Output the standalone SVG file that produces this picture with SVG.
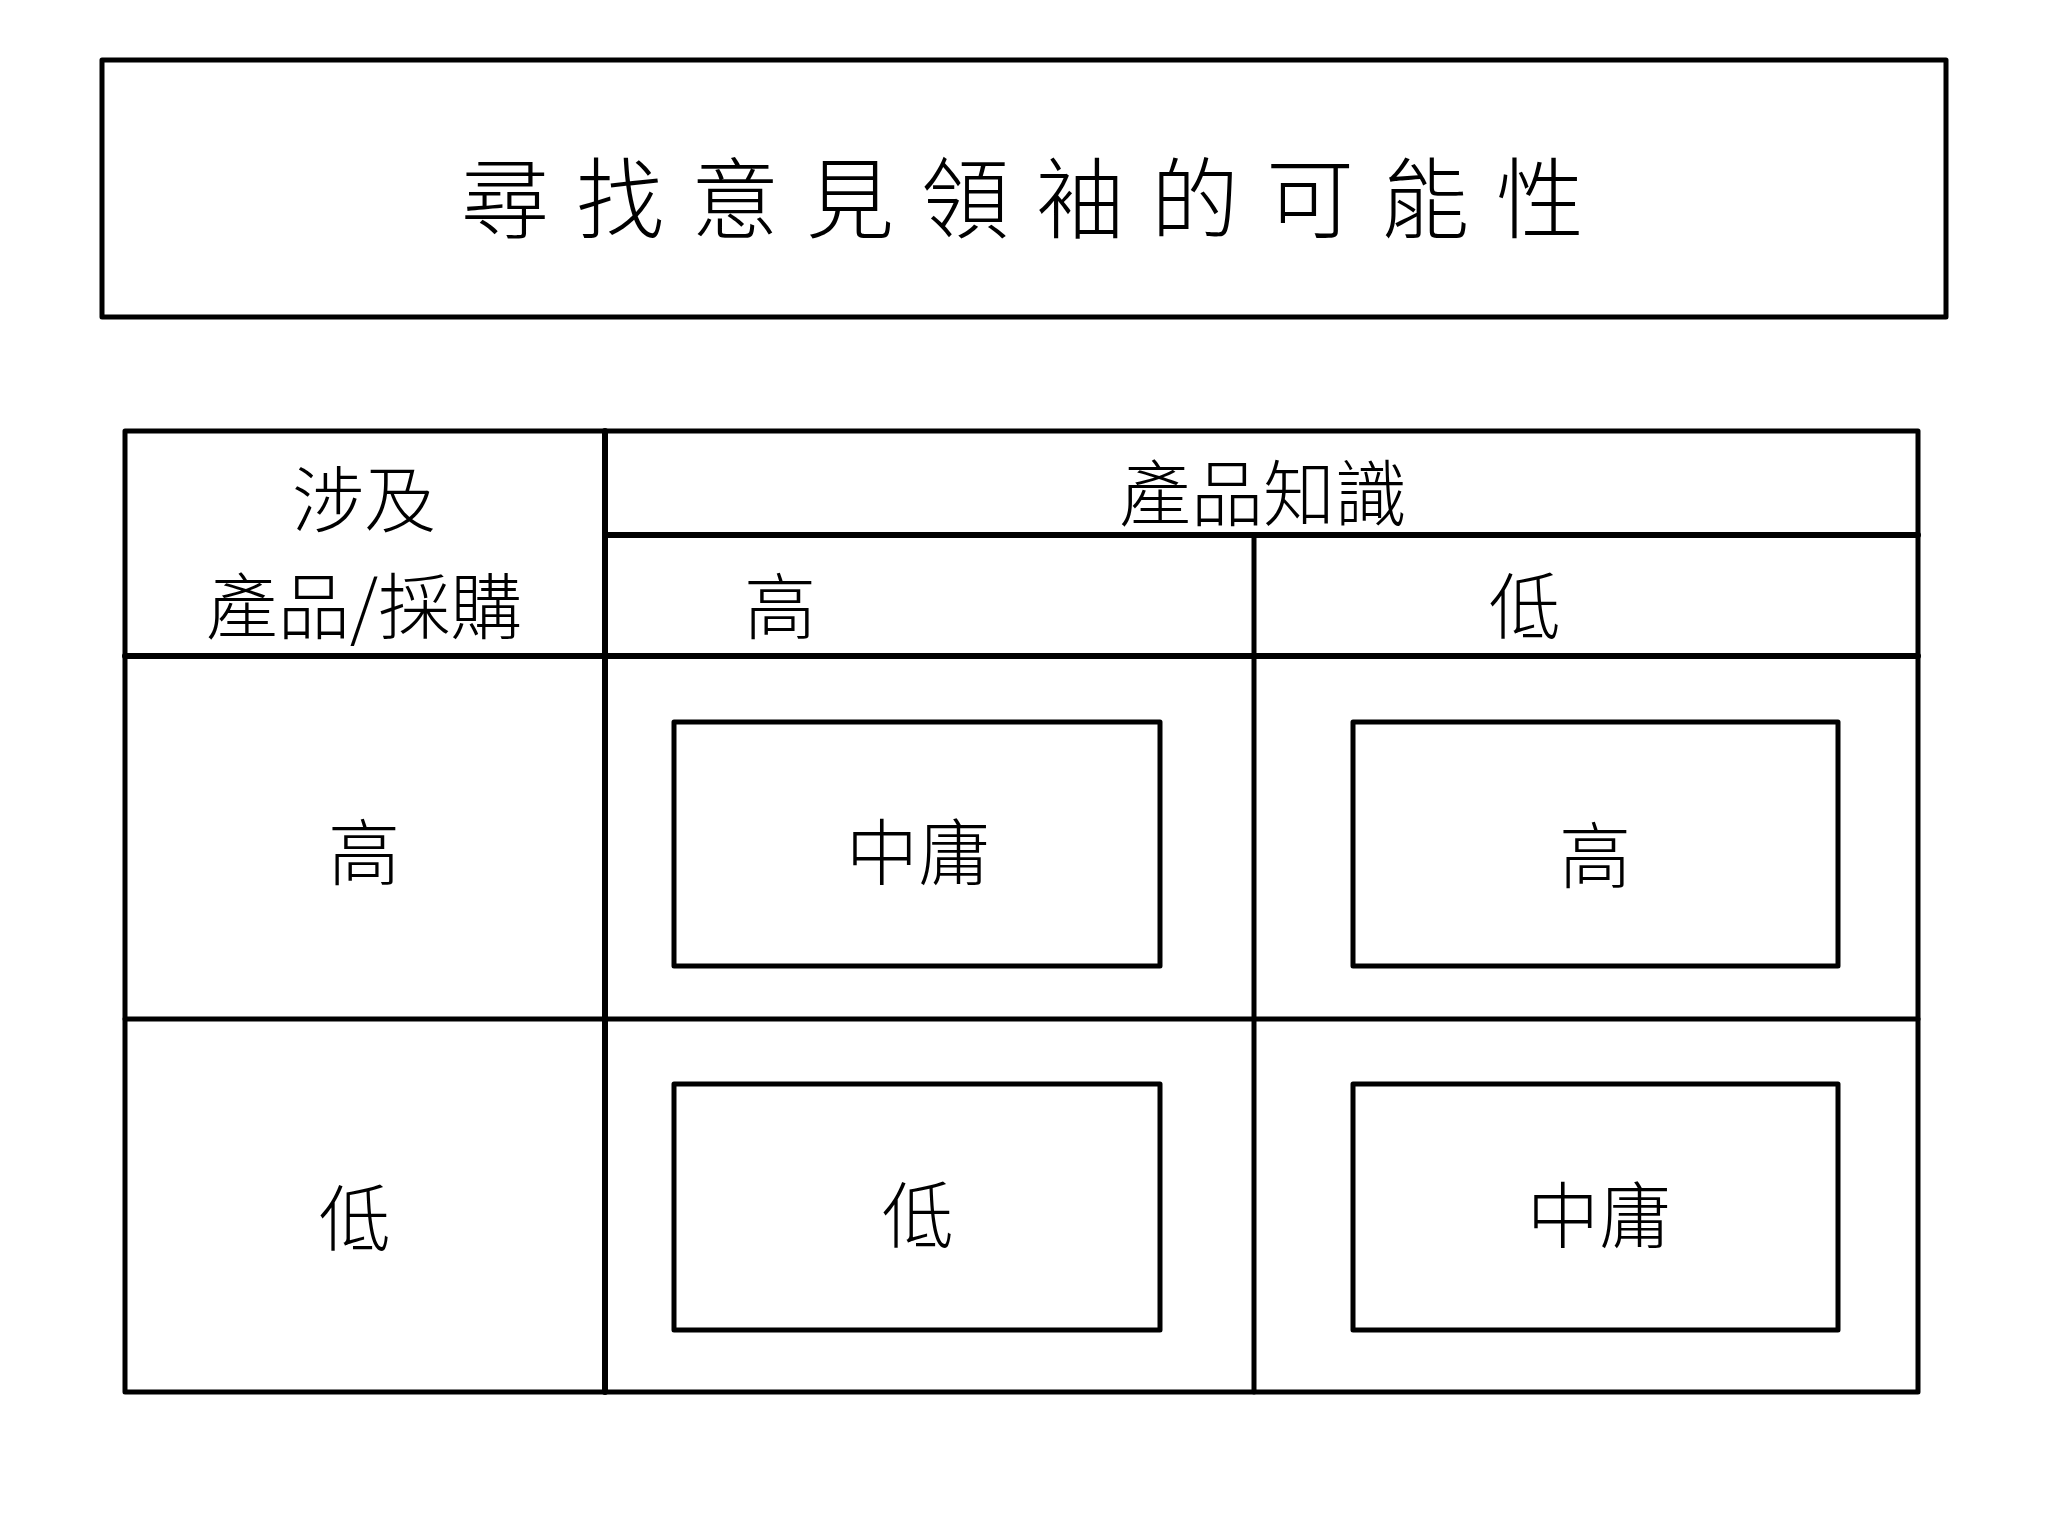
<svg xmlns="http://www.w3.org/2000/svg" width="2048" height="1536" viewBox="0 0 2048 1536">
<style>
.b{fill:none;stroke:#000;stroke-width:5;stroke-linejoin:round}
.l{stroke:#000;stroke-width:5;stroke-linecap:round}
.h{stroke-width:6}
text{font-family:"Noto Sans CJK TC","Noto Sans CJK SC",sans-serif;font-size:72px;text-anchor:middle;dominant-baseline:central;fill:#000;font-weight:300}
.t{font-size:88px;letter-spacing:27px}
</style>
<rect width="2048" height="1536" fill="#fff"/>
<g id="title"><rect class="b" x="102" y="60" width="1844" height="257"/><text class="t" x="1036" y="192">尋找意見領袖的可能性</text></g>
<g id="table">
<rect class="b" x="125" y="431" width="1793" height="961"/>
<line class="l h" x1="605" y1="431" x2="605" y2="1392"/>
<line class="l h" x1="605" y1="535" x2="1918" y2="535"/>
<line class="l" x1="1254" y1="535" x2="1254" y2="1392"/>
<line class="l h" x1="125" y1="656" x2="1918" y2="656"/>
<line class="l" x1="125" y1="1019" x2="1918" y2="1019"/>
</g>
<g id="headers">
<text x="364" y="494">涉及</text>
<text x="364" y="601">產品/採購</text>
<text x="1263" y="488">產品知識</text>
<text x="780" y="601">高</text>
<text x="1525" y="601">低</text>
<text x="364" y="847">高</text>
<text x="355" y="1213">低</text>
</g>
<g id="c11"><rect class="b" x="674" y="722" width="486" height="244"/><text x="918" y="847">中庸</text></g>
<g id="c12"><rect class="b" x="1353" y="722" width="485" height="244"/><text x="1595" y="850">高</text></g>
<g id="c21"><rect class="b" x="674" y="1084" width="486" height="246"/><text x="918" y="1210">低</text></g>
<g id="c22"><rect class="b" x="1353" y="1084" width="485" height="246"/><text x="1599" y="1210">中庸</text></g>
<g id="connectors"/>
</svg>
